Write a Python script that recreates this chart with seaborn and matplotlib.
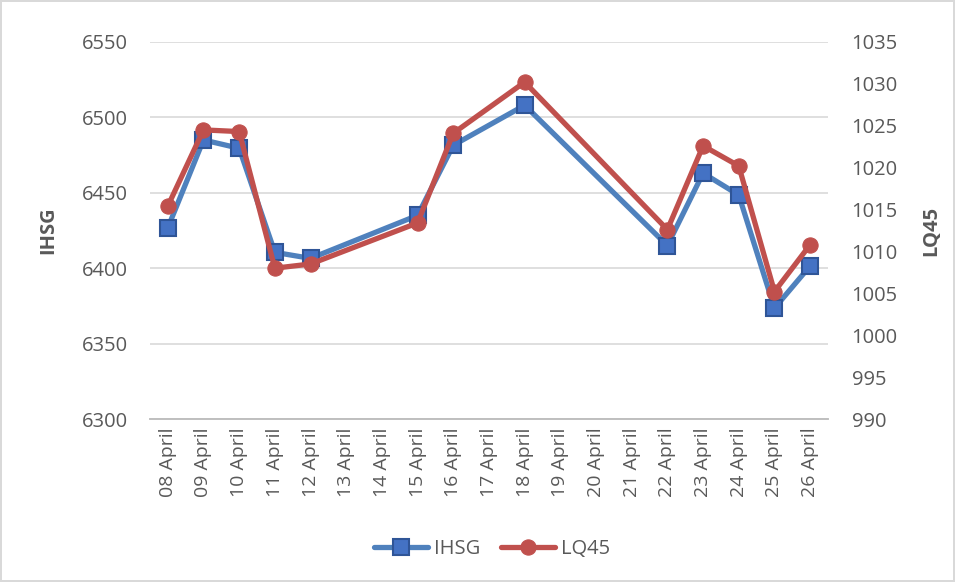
import numpy as np
import pandas as pd
import matplotlib
matplotlib.use('Agg')
import matplotlib.pyplot as plt
import seaborn as sns

# all category labels on the x axis
all_days = ['08 April', '09 April', '10 April', '11 April', '12 April', '13 April',
            '14 April', '15 April', '16 April', '17 April', '18 April', '19 April',
            '20 April', '21 April', '22 April', '23 April', '24 April', '25 April',
            '26 April']

# trading days with data
days = ['08 April', '09 April', '10 April', '11 April', '12 April', '15 April',
        '16 April', '18 April', '22 April', '23 April', '24 April', '25 April',
        '26 April']
ihsg = [6426.7, 6485.0, 6479.5, 6410.5, 6406.5, 6435.0, 6481.5, 6508.0,
        6415.0, 6463.0, 6448.5, 6373.5, 6401.5]
lq45 = [1015.4, 1024.5, 1024.3, 1008.0, 1008.5, 1013.4, 1024.1, 1030.2,
        1012.6, 1022.6, 1020.2, 1005.2, 1010.8]

df = pd.DataFrame({'day': days, 'IHSG': ihsg, 'LQ45': lq45})
df['pos'] = df['day'].map({d: i for i, d in enumerate(all_days)})

sns.set_style('white')
plt.rcParams['font.family'] = ['Open Sans', 'DejaVu Sans']
txt = '#595959'
fs = 14.5

fig, ax = plt.subplots(figsize=(9.55, 5.82), dpi=100)
fig.subplots_adjust(left=0.157, right=0.867, top=0.928, bottom=0.28)
fig.patch.set_edgecolor('#D9D9D9')
fig.patch.set_linewidth(1.5)

ax2 = ax.twinx()

sns.lineplot(data=df, x='pos', y='IHSG', ax=ax, color='#4F81BD', linewidth=3.8,
             marker='s', markersize=11, markerfacecolor='#4472C4',
             markeredgecolor='#2F5597', markeredgewidth=1.5, label='IHSG', legend=False)
sns.lineplot(data=df, x='pos', y='LQ45', ax=ax2, color='#C0504D', linewidth=3.8,
             marker='o', markersize=11, markerfacecolor='#C0504D',
             markeredgecolor='#C0504D', label='LQ45', legend=False)

ax.set_xlim(-0.5, len(all_days) - 0.5)
ax.set_ylim(6300, 6550)
ax2.set_ylim(990, 1035)
ax.set_yticks(np.arange(6300, 6551, 50))
ax2.set_yticks(np.arange(990, 1036, 5))

ax.set_xticks(range(len(all_days)))
ax.set_xticklabels(all_days, rotation=90)
ax.set_xticks(np.arange(-0.5, len(all_days), 1), minor=True)
ax.tick_params(axis='x', which='major', length=0, pad=6, labelsize=fs - 0.5, labelcolor=txt)
ax.tick_params(axis='x', which='minor', length=6, width=1.2, color='#BFBFBF')
ax.tick_params(axis='y', length=0, labelsize=fs, labelcolor=txt, pad=16)
ax2.tick_params(axis='y', length=0, labelsize=fs, labelcolor=txt, pad=17)

ax.grid(axis='y', color='#D9D9D9', linewidth=1.2)
ax.set_axisbelow(True)
for a in (ax, ax2):
    for s in ('top', 'left', 'right'):
        a.spines[s].set_visible(False)
    a.spines['bottom'].set_color('#BFBFBF')
    a.spines['bottom'].set_linewidth(1.2)

ax.set_xlabel('')
ax.set_ylabel('IHSG', fontsize=fs, fontweight='bold', color=txt, labelpad=17)
ax2.set_ylabel('LQ45', fontsize=fs, fontweight='bold', color=txt, labelpad=17)

h1, l1 = ax.get_legend_handles_labels()
h2, l2 = ax2.get_legend_handles_labels()
fig.legend(h1 + h2, l1 + l2, loc='center', bbox_to_anchor=(0.515, 0.056), ncol=2,
           frameon=False, fontsize=fs, labelcolor=txt, handlelength=2.7,
           columnspacing=1.0, handletextpad=0.3)

fig.savefig('out.png', dpi=100, edgecolor=fig.get_edgecolor())
